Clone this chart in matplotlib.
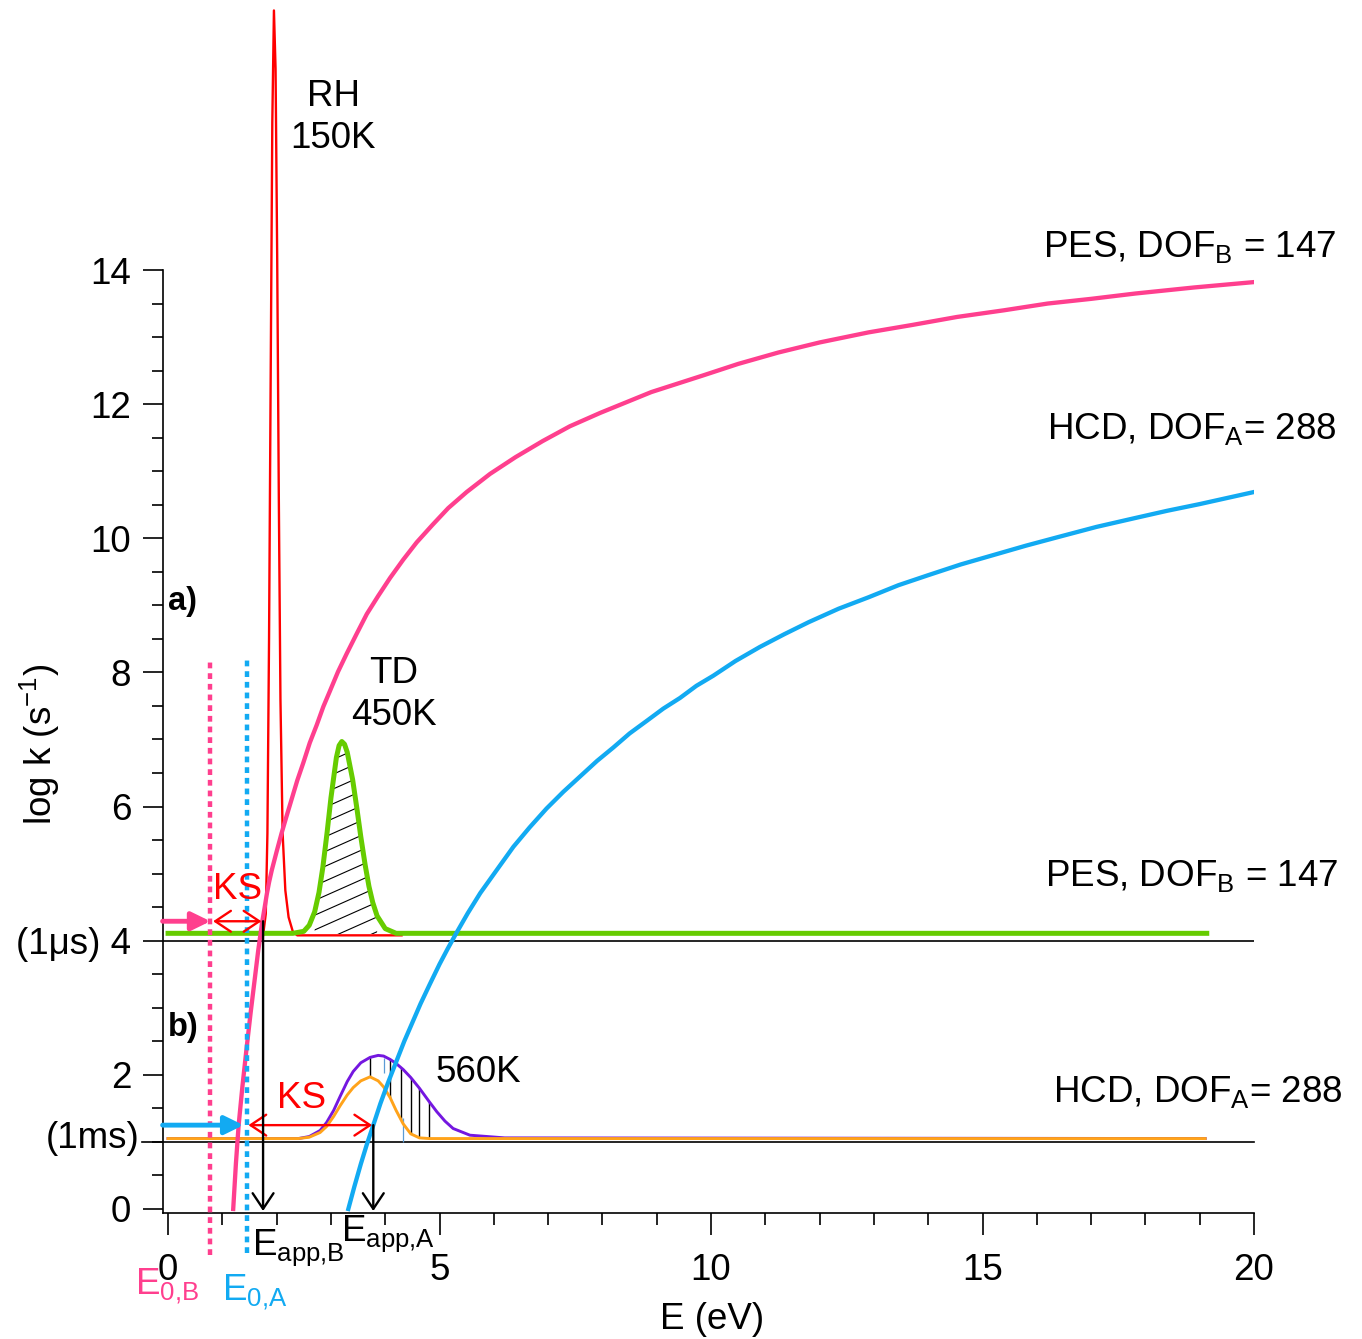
import numpy as np
import matplotlib
matplotlib.use('Agg')
import matplotlib.pyplot as plt
from matplotlib.ticker import FixedLocator

plt.rcParams['font.family'] = ['Liberation Sans', 'DejaVu Sans']
plt.rcParams['mathtext.fontset'] = 'custom'
plt.rcParams['mathtext.rm'] = 'Liberation Sans'
plt.rcParams['mathtext.it'] = 'Liberation Sans:italic'
plt.rcParams['mathtext.bf'] = 'Liberation Sans:bold'

# PES rate curve, DOF_B = 147
pes_E = [1.20, 1.25, 1.30, 1.37, 1.44, 1.52, 1.60, 1.66, 1.73, 1.78, 1.82, 1.86, 1.91, 2.00,
         2.09, 2.18, 2.28, 2.38, 2.49, 2.61, 2.74, 2.86, 2.98, 3.13, 3.29, 3.47, 3.66, 3.87,
         4.09, 4.33, 4.58, 4.87, 5.16, 5.50, 5.93, 6.40, 6.90, 7.40, 7.96, 8.90, 9.86, 10.5,
         11.24, 12.0, 12.9, 13.7, 14.53, 15.4, 16.2, 17.0, 17.82, 18.9, 20.0]
pes_logk = [0.00, 0.68, 1.25, 1.83, 2.35, 2.92, 3.45, 3.85, 4.26, 4.50, 4.70, 4.87, 5.05, 5.33,
            5.60, 5.85, 6.12, 6.39, 6.65, 6.95, 7.22, 7.49, 7.72, 8.01, 8.28, 8.57, 8.87, 9.14,
            9.41, 9.68, 9.94, 10.20, 10.45, 10.69, 10.96, 11.21, 11.45, 11.67, 11.87, 12.18, 12.43, 12.60,
            12.77, 12.92, 13.07, 13.18, 13.30, 13.40, 13.50, 13.57, 13.65, 13.74, 13.82]

# HCD rate curve, DOF_A = 288
hcd_E = [3.32, 3.43, 3.55, 3.66, 3.78, 3.91, 4.05, 4.20, 4.35, 4.50, 4.65, 4.82, 5.00, 5.15,
         5.30, 5.52, 5.75, 6.05, 6.36, 6.66, 6.97, 7.28, 7.59, 7.90, 8.20, 8.50, 8.82, 9.12,
         9.43, 9.73, 10.04, 10.45, 10.9, 11.35, 11.8, 12.35, 12.9, 13.45, 14.0, 14.6, 15.2,
         15.8, 16.4, 17.1, 17.8, 18.4, 19.0, 19.5, 20.0]
hcd_logk = [0.00, 0.33, 0.67, 0.96, 1.25, 1.57, 1.88, 2.19, 2.50, 2.78, 3.06, 3.35, 3.65, 3.88,
            4.10, 4.41, 4.71, 5.05, 5.40, 5.69, 5.97, 6.22, 6.45, 6.68, 6.88, 7.09, 7.28, 7.46,
            7.62, 7.80, 7.95, 8.17, 8.38, 8.57, 8.75, 8.95, 9.12, 9.30, 9.45, 9.61, 9.75,
            9.89, 10.02, 10.17, 10.30, 10.41, 10.51, 10.60, 10.69]

# RH 150K energy distribution (panel a)
rh_E = [1.75, 1.80, 1.83, 1.86, 1.89, 1.92, 1.95, 1.98, 2.01, 2.04, 2.07, 2.11, 2.16, 2.22, 2.30, 2.38, 4.30]
rh_y = [4.08, 4.40, 5.60, 8.50, 12.4, 16.2, 17.87, 17.0, 14.2, 10.6, 7.6, 5.6, 4.75, 4.35, 4.13, 4.08, 4.08]

# TD 450K energy distribution (panel a)
td_E = [0.0, 2.3, 2.5, 2.6, 2.7, 2.78, 2.85, 2.93, 3.0, 3.1, 3.15, 3.2, 3.25, 3.3, 3.4, 3.48,
        3.55, 3.63, 3.7, 3.77, 3.85, 4.0, 4.2, 4.5, 19.13]
td_y = [4.11, 4.11, 4.14, 4.23, 4.43, 4.72, 5.09, 5.62, 6.13, 6.73, 6.91, 6.97, 6.93, 6.81, 6.40, 5.96,
        5.55, 5.13, 4.81, 4.57, 4.37, 4.18, 4.11, 4.11, 4.11]

# 560K distributions (panel b)
b_E = [0.0, 2.4, 2.6, 2.8, 2.92, 3.05, 3.17, 3.3, 3.41, 3.55, 3.72, 3.87, 3.97, 4.09, 4.2,
       4.33, 4.47, 4.63, 4.81, 4.95, 5.1, 5.25, 5.56, 6.2, 19.1]
b_purple = [1.05, 1.05, 1.08, 1.17, 1.29, 1.47, 1.68, 1.90, 2.05, 2.18, 2.26, 2.29, 2.28, 2.23, 2.17,
            2.08, 1.96, 1.80, 1.60, 1.45, 1.31, 1.20, 1.10, 1.06, 1.05]
b_orange = [1.05, 1.05, 1.07, 1.14, 1.23, 1.38, 1.54, 1.70, 1.81, 1.91, 1.97, 1.91, 1.82, 1.66, 1.47,
            1.27, 1.12, 1.06, 1.05, 1.05, 1.05, 1.05, 1.05, 1.05, 1.05]
b_hatch_E = [3.72, 4.09, 4.29, 4.47, 4.63, 4.81]

E0_B = 0.78
E0_A = 1.45
Eapp_B = 1.75
Eapp_A = 3.78
ks_a = 4.29
ks_b = 1.25

pink = '#ff3f8e'
blue = '#12aaf2'
green = '#66cc00'
red = '#ff0000'
purple = '#7417e0'
orange = '#ffa31a'

fig = plt.figure(figsize=(13.62, 13.39), dpi=100)
ax = fig.add_axes([0.1194, 0.0941, 0.8013, 0.9046])
ax.set_xlim(-0.1, 20)
ax.set_ylim(-0.06, 18.0)

# level lines
ax.plot([-0.1, 20], [4, 4], color='black', lw=1.2, zorder=2)
ax.plot([-0.48, 20], [1, 1], color='black', lw=1.2, zorder=2, clip_on=False)

# panel a distributions, hatched TD area with shallow lines
ax.plot(rh_E, rh_y, color=red, lw=1.7, zorder=3)
td_E_a = np.array(td_E)
td_fill = ax.fill_between(td_E_a, 4.1, td_y, where=(td_E_a >= 2.7) & (td_E_a <= 3.85),
                          facecolor='none', edgecolor='none', zorder=3)
clip = td_fill.get_paths()[0]
hx = np.array([2.5, 4.1])
for c in np.arange(-0.6, 3.2, 0.22):
    ln, = ax.plot(hx, 4.1 + c + 0.36 * (hx - 2.7), color='black', lw=0.8, zorder=3)
    ln.set_clip_path(clip, ax.transData)
ax.plot(td_E, td_y, color=green, lw=3.6, zorder=4)

# panel b distributions
lo = np.interp(b_hatch_E, b_E, b_orange)
hi = np.interp(b_hatch_E, b_E, b_purple)
ax.vlines(b_hatch_E, lo, hi, color='black', lw=1.0, zorder=3)
ax.vlines([3.97, 4.32], [2.03, 1.0], [2.25, 1.36], color='#5b9bd5', lw=0.9, zorder=3)
ax.plot(b_E, b_purple, color=purple, lw=2.1, zorder=4)
ax.plot(b_E, b_orange, color=orange, lw=2.1, zorder=4)

# rate curves
ax.plot(pes_E, pes_logk, color=pink, lw=3.1, zorder=5, solid_joinstyle='round')
ax.plot(hcd_E, hcd_logk, color=blue, lw=3.1, zorder=5, solid_joinstyle='round')

# activation energies
ax.plot([E0_B, E0_B], [-0.68, 8.21], color=pink, lw=3.2, ls=(0, (1.3, 1.1)),
        dash_capstyle='butt', clip_on=False, zorder=6)
ax.plot([E0_A, E0_A], [-0.66, 8.18], color=blue, lw=3.2, ls=(0, (1.3, 1.1)),
        dash_capstyle='butt', clip_on=False, zorder=6)

# arrows
fat = dict(arrowstyle='-|>,head_length=0.45,head_width=0.22', lw=3.5, mutation_scale=25,
           shrinkA=0, shrinkB=0)
ax.annotate('', xy=(E0_B, ks_a), xytext=(-0.1, ks_a), arrowprops=dict(fat, color=pink), zorder=7)
ax.annotate('', xy=(E0_A - 0.06, ks_b), xytext=(-0.1, ks_b), arrowprops=dict(fat, color=blue), zorder=7)
ks = dict(arrowstyle='<->,head_length=0.45,head_width=0.3', lw=1.7, mutation_scale=25,
          shrinkA=0, shrinkB=0, color=red)
ax.annotate('', xy=(Eapp_B - 0.03, ks_a), xytext=(E0_B + 0.05, ks_a), arrowprops=ks, zorder=7)
ax.annotate('', xy=(Eapp_A - 0.02, ks_b), xytext=(E0_A + 0.03, ks_b), arrowprops=ks, zorder=7)
down = dict(arrowstyle='->,head_length=0.45,head_width=0.3', lw=1.7, mutation_scale=25,
            shrinkA=0, shrinkB=0, color='black')
ax.annotate('', xy=(Eapp_B, -0.03), xytext=(Eapp_B, ks_a), arrowprops=down, zorder=7)
ax.annotate('', xy=(Eapp_A, -0.03), xytext=(Eapp_A, ks_b), arrowprops=down, zorder=7)

# text
fs = 26.5
ax.text(1.28, 4.76, 'KS', color=red, fontsize=fs, ha='center', va='center', zorder=8)
ax.text(2.46, 1.65, 'KS', color=red, fontsize=fs, ha='center', va='center', zorder=8)
ax.text(3.04, 16.27, 'RH\n150K', fontsize=fs, ha='center', va='center', linespacing=1.25)
ax.text(4.16, 7.67, 'TD\n450K', fontsize=fs, ha='center', va='center', linespacing=1.25)
ax.text(5.71, 2.03, '560K', fontsize=fs, ha='center', va='center')
ax.text(21.52, 14.20, r'PES, DOF$_\mathregular{B}$ = 147', fontsize=fs, ha='right', va='baseline')
ax.text(21.52, 11.48, r'HCD, DOF$_\mathregular{A}$= 288', fontsize=fs, ha='right', va='baseline')
ax.text(21.55, 4.82, r'PES, DOF$_\mathregular{B}$ = 147', fontsize=fs, ha='right', va='baseline')
ax.text(21.64, 1.60, r'HCD, DOF$_\mathregular{A}$= 288', fontsize=fs, ha='right', va='baseline')
ax.text(0.0, 9.06, 'a)', fontsize=23.5, fontweight='bold', ha='left', va='center')
ax.text(0.0, 2.70, 'b)', fontsize=23.5, fontweight='bold', ha='left', va='center')
ax.text(-0.52, 1.05, '(1ms)', fontsize=fs, ha='right', va='center')
ax.text(-0.61, -1.28, r'E$_\mathregular{0{,}B}$', color=pink, fontsize=fs, ha='left', va='baseline')
ax.text(0.99, -1.36, r'E$_\mathregular{0{,}A}$', color=blue, fontsize=fs, ha='left', va='baseline')
ax.text(1.55, -0.69, r'E$_\mathregular{app{,}B}$', fontsize=fs, ha='left', va='baseline')
ax.text(3.19, -0.48, r'E$_\mathregular{app{,}A}$', fontsize=fs, ha='left', va='baseline')

# axes styling
for s in ['top', 'right']:
    ax.spines[s].set_visible(False)
ax.spines['left'].set_bounds(-0.06, 14)
ax.spines['left'].set_linewidth(1.2)
ax.spines['bottom'].set_linewidth(1.2)

ax.set_xticks([0, 5, 10, 15, 20])
ax.xaxis.set_minor_locator(FixedLocator(np.arange(0, 21, 1)))
ax.set_yticks([0, 2, 4, 6, 8, 10, 12, 14])
ax.set_yticklabels(['0', '2', '(1\u03bcs) 4', '6', '8', '10', '12', '14'])
ax.yaxis.set_minor_locator(FixedLocator(np.arange(0, 14.01, 0.5)))
ax.tick_params(axis='x', which='major', direction='out', length=16, width=1.2, pad=13, labelsize=fs)
ax.tick_params(axis='x', which='minor', direction='out', length=8.5, width=1.2)
ax.tick_params(axis='y', which='major', direction='out', length=14.5, width=1.2, pad=8, labelsize=fs)
ax.tick_params(axis='y', which='minor', direction='out', length=8, width=1.2)

ax.set_xlabel('E (eV)', fontsize=fs)
ax.xaxis.set_label_coords(0.5034, -0.0735)
ax.set_ylabel('log k (s$^{-1}$)', fontsize=fs)
ax.yaxis.set_label_coords(-0.0922, 0.3865)

fig.savefig('out.png', dpi=100)
